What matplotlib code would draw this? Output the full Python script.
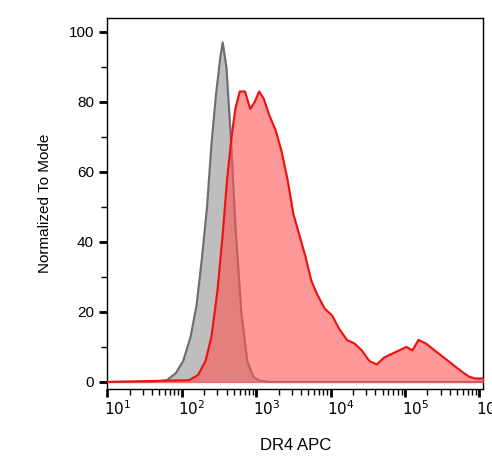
import numpy as np
import matplotlib.pyplot as plt
from matplotlib.ticker import LogLocator, NullFormatter, FixedLocator

# control (gray) histogram, log10 of DR4 APC vs normalized count
gray_log = [1.0, 1.6, 1.8, 1.92, 2.02, 2.12, 2.2, 2.27, 2.34, 2.40, 2.46, 2.52, 2.55, 2.60, 2.66, 2.72, 2.80, 2.88, 2.96, 3.05, 3.2, 6.1]
gray_val = [0.0, 0.0, 0.5, 2.5, 6, 13, 22, 35, 50, 68, 82, 93, 97, 90, 70, 45, 20, 6, 1.5, 0.3, 0.0, 0.0]

# DR4 stained (red) histogram
red_log = [1.0, 2.1, 2.22, 2.32, 2.40, 2.48, 2.55, 2.61, 2.67, 2.72, 2.78, 2.85, 2.92, 2.98, 3.04, 3.10, 3.18, 3.26, 3.34, 3.42, 3.50, 3.58,
           3.66, 3.74, 3.82, 3.92, 4.02, 4.12, 4.22, 4.32, 4.42, 4.52, 4.62, 4.72, 4.82, 4.92, 5.02, 5.10, 5.18, 5.28, 5.40, 5.52, 5.64,
           5.76, 5.86, 5.94, 6.1]
red_val = [0.0, 0.5, 2, 6, 13, 26, 42, 58, 70, 78, 83, 83, 78, 80, 83, 81, 76, 72, 66, 58, 48, 42,
           36, 29, 25, 21, 19, 15, 12, 11, 9, 6, 5, 7, 8, 9, 10, 9, 12, 11, 9, 7, 5,
           3, 1.5, 1, 1]

fig, ax = plt.subplots(figsize=(4.92, 4.72), dpi=100)
fig.subplots_adjust(left=0.218, right=0.982, top=0.962, bottom=0.176)

gx = 10 ** np.array(gray_log)
rx = 10 ** np.array(red_log)
ax.fill_between(gx, gray_val, color='#a9a9a9', alpha=0.75, zorder=2)
ax.plot(gx, gray_val, color='#6e6e6e', lw=1.5, zorder=3)
ax.fill_between(rx, red_val, color='#ff5555', alpha=0.6, zorder=4)
ax.plot(rx, red_val, color='#ee1111', lw=1.5, zorder=5)

ax.set_xscale('log')
ax.set_xlim(10 ** 1, 10 ** 6.05)
ax.set_ylim(-2, 104)
ax.xaxis.set_major_locator(LogLocator(base=10, numticks=10))
ax.xaxis.set_minor_locator(LogLocator(base=10, subs=np.arange(2, 10), numticks=20))
ax.xaxis.set_minor_formatter(NullFormatter())
ax.xaxis.set_major_formatter(plt.FuncFormatter(lambda v, p: ''))
for e in range(1, 7):
    ax.text(10 ** (e + 0.14), -5, r'$10^{%d}$' % e, ha='center', va='top', fontsize=11, family='Liberation Sans')

ax.set_yticks([0, 20, 40, 60, 80, 100])
ax.yaxis.set_minor_locator(FixedLocator(np.arange(10, 100, 20)))
ax.tick_params(axis='both', which='major', direction='out', length=6, width=2, labelsize=11)
ax.tick_params(axis='both', which='minor', direction='out', length=4, width=1)
for lab in ax.get_yticklabels():
    lab.set_family('Liberation Sans')

ax.set_xlabel('DR4 APC', fontsize=12, family='Liberation Sans', labelpad=26)
ax.set_ylabel('Normalized To Mode', fontsize=11, family='Liberation Sans', labelpad=12)
for s in ax.spines.values():
    s.set_linewidth(1)

fig.savefig('out.png', dpi=100)
